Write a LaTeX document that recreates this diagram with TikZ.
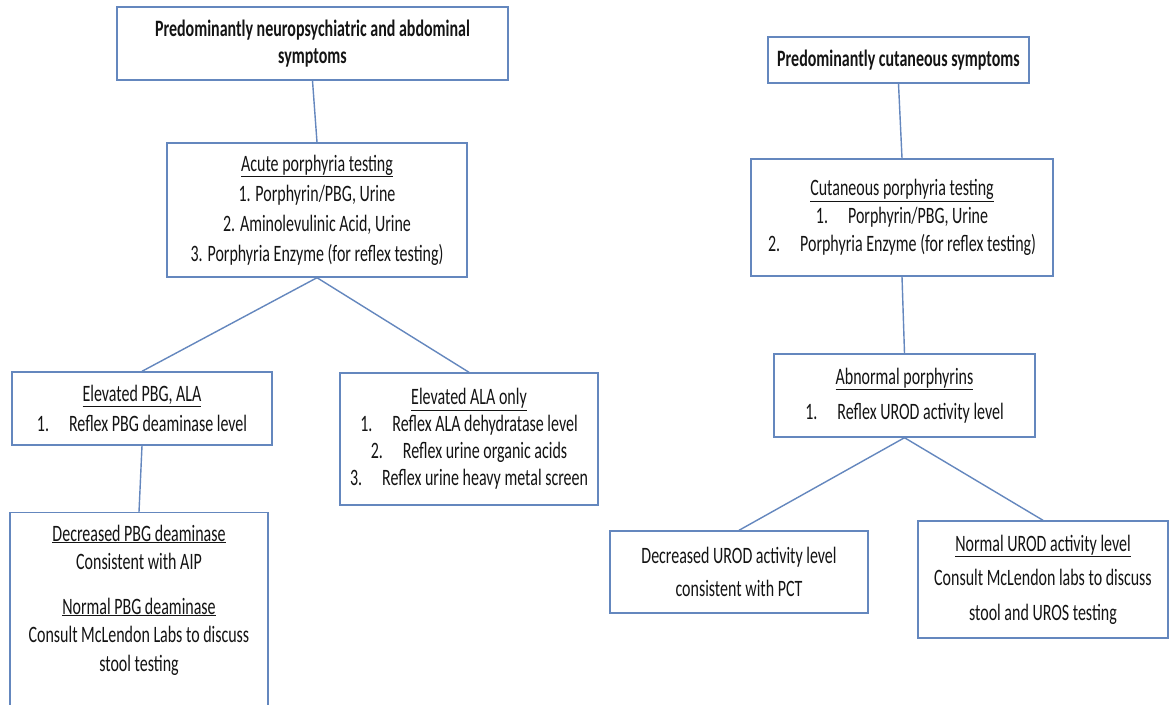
\documentclass[tikz,border=0pt]{standalone}
\usepackage{fontspec}
\setmainfont[FakeStretch=0.68]{Carlito}
\definecolor{boxblue}{RGB}{100,135,190}
\definecolor{inkgrey}{RGB}{20,20,20}
\tikzset{
  flowbox/.style={draw=boxblue, line width=1.4pt, fill=white, text=inkgrey,
    align=center, inner sep=0pt, font=\fontsize{23.5}{29}\selectfont},
  headbox/.style={flowbox, font=\bfseries\fontsize{23.5}{27}\selectfont},
  link/.style={draw=boxblue, line width=1.4pt}
}
\newcommand{\tabgap}{\hspace{20pt}}

\begin{document}
\begin{tikzpicture}[x=1pt,y=-1pt]
  \clip (0,0) rectangle (1169,704);
  \fill[white] (0,0) rectangle (1169,704);

  % acute side
  \node[headbox, minimum width=391, minimum height=73] (sympneuro) at (312.5,43.5)
    {Predominantly neuropsychiatric and abdominal\\symptoms};
  \node[flowbox, minimum width=300, minimum height=134, font=\fontsize{23.5}{30}\selectfont] (acutetest) at (317,210)
    {\underline{Acute porphyria testing}\\1. Porphyrin/PBG, Urine\\2. Aminolevulinic Acid, Urine\\3. Porphyria Enzyme (for reflex testing)};
  \node[flowbox, minimum width=260, minimum height=73, font=\fontsize{23.5}{30}\selectfont] (elevpbg) at (142,408.5)
    {\underline{Elevated PBG, ALA}\\1.\tabgap Reflex PBG deaminase level};
  \node[flowbox, minimum width=258, minimum height=132, font=\fontsize{23.5}{27}\selectfont] (elevala) at (469,439)
    {\underline{Elevated ALA only}\\1.\tabgap Reflex ALA dehydratase level\\2.\tabgap Reflex urine organic acids\\3.\tabgap Reflex urine heavy metal screen};
  \node[flowbox, anchor=north, minimum width=258, inner ysep=12pt, text depth=80pt, font=\fontsize{23.5}{28.5}\selectfont] (pbgresult) at (139,512)
    {\underline{Decreased PBG deaminase}\\Consistent with AIP\\[16pt]\underline{Normal PBG deaminase}\\Consult McLendon Labs to discuss\\stool testing};

  % cutaneous side
  \node[headbox, minimum width=261, minimum height=46] (sympcut) at (898.5,60)
    {Predominantly cutaneous symptoms};
  \node[flowbox, minimum width=302, minimum height=117, font=\fontsize{23.5}{28}\selectfont] (cuttest) at (902,217.5)
    {\underline{Cutaneous porphyria testing}\\1.\tabgap Porphyrin/PBG, Urine\\2.\tabgap Porphyria Enzyme (for reflex testing)};
  \node[flowbox, minimum width=261, minimum height=83, font=\fontsize{23.5}{35}\selectfont] (abnporph) at (904.5,395.5)
    {\underline{Abnormal porphyrins}\\1.\tabgap Reflex UROD activity level};
  \node[flowbox, minimum width=258, minimum height=82, font=\fontsize{23.5}{33}\selectfont] (decurod) at (739,572)
    {Decreased UROD activity level\\consistent with PCT};
  \node[flowbox, minimum width=250, minimum height=117, font=\fontsize{23.5}{34.5}\selectfont] (normurod) at (1043,579.5)
    {\underline{Normal UROD activity level}\\Consult McLendon labs to discuss\\stool and UROS testing};

  % connectors
  \draw[link] (sympneuro.south) -- (acutetest.north);
  \draw[link] (acutetest.south) -- (elevpbg.north);
  \draw[link] (acutetest.south) -- (elevala.north);
  \draw[link] (elevpbg.south) -- (pbgresult.north);
  \draw[link] (sympcut.south) -- (cuttest.north);
  \draw[link] (cuttest.south) -- (abnporph.north);
  \draw[link] (abnporph.south) -- (decurod.north);
  \draw[link] (abnporph.south) -- (normurod.north);
\end{tikzpicture}
\end{document}
